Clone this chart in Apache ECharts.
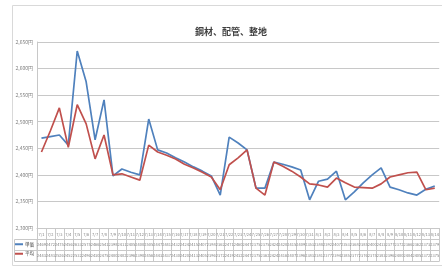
<!DOCTYPE html>
<html>
<head>
<meta charset="utf-8">
<script src="https://cdn.jsdelivr.net/npm/echarts@6/dist/echarts.min.js"></script>
<style>
  html, body { margin: 0; padding: 0; background: #fff; }
  #chart { width: 442px; height: 271px; }
</style>
</head>
<body>
<div id="chart"></div>
<script>
// 日付
const days = [
  '7/1', '7/2', '7/3', '7/4', '7/5', '7/6', '7/7', '7/8', '7/9', '7/10',
  '7/11', '7/12', '7/13', '7/14', '7/15', '7/16', '7/17', '7/18', '7/19', '7/20',
  '7/21', '7/22', '7/23', '7/24', '7/25', '7/26', '7/27', '7/28', '7/29', '7/30',
  '7/31', '8/1', '8/2', '8/3', '8/4', '8/5', '8/6', '8/7', '8/8', '8/9',
  '8/10', '8/11', '8/12', '8/13', '8/14'
]

// 単価 (青)
const unitPrice = [
  2469, 2472, 2475, 2456, 2633, 2575, 2466, 2541, 2398, 2411,
  2405, 2400, 2505, 2447, 2441, 2432, 2424, 2415, 2407, 2398,
  2362, 2471, 2460, 2447, 2375, 2375, 2424, 2420, 2415, 2409,
  2353, 2388, 2392, 2407, 2353, 2368, 2385, 2400, 2413, 2377,
  2372, 2366, 2362, 2373, 2379
]

// 平均 (赤)
const average = [
  2443, 2483, 2526, 2452, 2532, 2496, 2430, 2475, 2400, 2402,
  2396, 2390, 2456, 2443, 2437, 2430, 2420, 2413, 2405, 2396,
  2372, 2419, 2432, 2447, 2375, 2362, 2424, 2416, 2407, 2396,
  2383, 2381, 2377, 2394, 2385, 2377, 2376, 2375, 2383, 2396,
  2400, 2404, 2405, 2372, 2375
]

const seriesNames = ['単価', '平均']
const colors = ['#4f81bd', '#c0504d']
const gridColor = '#c8c8c8'
const labelColor = '#7f7f7f'

const chart = echarts.init(document.getElementById('chart'))

// データテーブルの行 (x軸を下にずらして並べる)
const tableAxis = (offset, values, showLabel) => ({
  type: 'category',
  gridIndex: 0,
  position: 'bottom',
  offset,
  data: days,
  boundaryGap: true,
  axisLine: { show: true, lineStyle: { color: gridColor, width: 1 } },
  axisTick: { show: false },
  axisLabel: {
    show: showLabel,
    interval: 0,
    margin: 3,
    fontSize: 4,
    color: labelColor,
    formatter: (v, i) => (values ? String(values[i]) : v),
  },
  splitLine: { show: false },
})

const option = {
  animation: false,
  textStyle: { fontFamily: 'Noto Sans CJK JP' },
  title: {
    text: '鋼材、配管、整地',
    left: 190,
    top: 22,
    textStyle: { fontSize: 9, fontWeight: 'bold', color: '#404040', fontFamily: 'Noto Sans CJK JP' },
  },
  legend: {
    orient: 'vertical',
    left: 15,
    top: 242,
    padding: 0,
    itemGap: 5,
    itemWidth: 8,
    itemHeight: 2,
    icon: 'rect',
    textStyle: { fontSize: 4.5, color: '#404040', padding: [0, 0, 0, -3] },
    data: seriesNames,
  },
  grid: { left: 37, right: -14, top: 42, bottom: 43 },
  xAxis: [
    {
      type: 'category',
      data: days,
      boundaryGap: true,
      axisLine: { show: true, lineStyle: { color: gridColor, width: 1 } },
      axisTick: { show: true, length: 33, lineStyle: { color: gridColor } },
      axisLabel: { interval: 0, margin: 4, fontSize: 4, color: labelColor },
    },
    tableAxis(11, unitPrice, true),
    tableAxis(22, average, true),
    tableAxis(33, null, false),
  ],
  yAxis: {
    type: 'value',
    min: 2300,
    max: 2650,
    interval: 50,
    axisLine: { show: true, lineStyle: { color: gridColor } },
    axisTick: { show: false },
    axisLabel: {
      fontSize: 5,
      margin: 4,
      color: labelColor,
      formatter: v => v.toLocaleString('ja-JP') + '円',
    },
    splitLine: { lineStyle: { color: gridColor, width: 1 } },
  },
  graphic: [
    {
      type: 'rect',
      shape: { x: 12.5, y: 5.5, width: 440, height: 260 },
      style: { fill: 'none', stroke: '#d9d9d9', lineWidth: 1 },
      silent: true,
    },
    {
      type: 'rect',
      shape: { x: 14.5, y: 239.5, width: 22.5, height: 22 },
      style: { fill: 'none', stroke: gridColor, lineWidth: 1 },
      silent: true,
    },
    {
      type: 'line',
      shape: { x1: 14.5, y1: 250.5, x2: 37, y2: 250.5 },
      style: { stroke: gridColor, lineWidth: 1 },
      silent: true,
    },
  ],
  series: [
    {
      name: seriesNames[0],
      type: 'line',
      data: unitPrice,
      symbol: 'none',
      lineStyle: { width: 1.7, color: colors[0] },
      itemStyle: { color: colors[0] },
    },
    {
      name: seriesNames[1],
      type: 'line',
      data: average,
      symbol: 'none',
      lineStyle: { width: 1.7, color: colors[1] },
      itemStyle: { color: colors[1] },
    },
  ],
}

chart.setOption(option)
</script>
</body>
</html>
